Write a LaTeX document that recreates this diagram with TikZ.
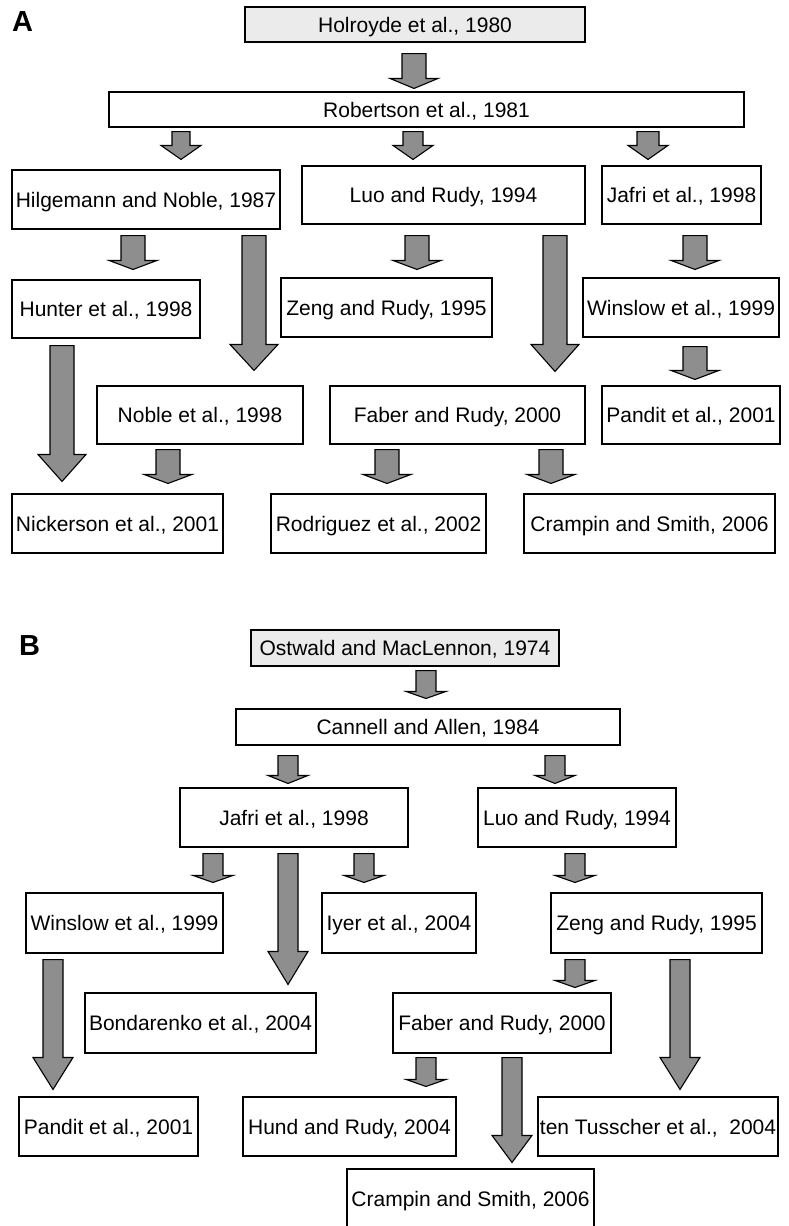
\documentclass[tikz,border=0pt]{standalone}
\usepackage{fontspec}
\setmainfont{Liberation Sans}
\usetikzlibrary{calc}
\definecolor{boxgray}{HTML}{EBEBEB}
\definecolor{arrowgray}{HTML}{8E8E8E}
\tikzset{
	study/.style={draw=black, line width=1.1pt, inner sep=0pt, text height=15, text depth=0, font=\fontsize{21}{25}\selectfont},
	root/.style={study, fill=boxgray},
	panel/.style={inner sep=0pt, text height=21, text depth=0, font=\fontsize{29}{32}\selectfont\bfseries},
	fa shaft/.store in=\faShaft, fa head/.store in=\faHead, fa len/.store in=\faLen,
	fa top/.store in=\faTop, fa gap/.store in=\faGap,
	fa shaft=24, fa head=48, fa len=9, fa top=6, fa gap=8,
	fa robt/.style={fa shaft=20, fa head=40, fa len=14, fa top=4},
	panelB/.style={fa shaft=20, fa head=40, fa len=7},
}
\newcommand{\fatarrow}[4][]{%
	\path[draw=black, line width=1.1pt, fill=arrowgray, #1]
		let \p1=(#3.south), \p2=(#4.north), \n1={#2*1pt}, \n2={\faShaft*0.5pt}, \n3={\faHead*0.5pt},
			\n4={\y1-\faTop*1pt}, \n5={\y2+\faGap*1pt}, \n6={\n5+\faLen*1pt} in
		(\n1-\n2,\n4) -- (\n1+\n2,\n4) -- (\n1+\n2,\n6) -- (\n1+\n3,\n6) -- (\n1,\n5) -- (\n1-\n3,\n6) -- (\n1-\n2,\n6) -- cycle;}

\begin{document}
\begin{tikzpicture}[x=1pt, y=-1pt]
	\useasboundingbox (0,0) rectangle (789,1226);
	\node[panel] (labA) at (22.5,21) {A};
	\node[root, minimum width=340, minimum height=35] (holr) at (415,24.5) {Holroyde et al., 1980};
	\node[study, minimum width=635, minimum height=35] (robt) at (426.5,109.5) {Robertson et al., 1981};
	\node[study, minimum width=268, minimum height=59] (hilg) at (146,199.5) {Hilgemann and Noble, 1987};
	\node[study, minimum width=283, minimum height=58] (luoA) at (443.5,195) {Luo and Rudy, 1994};
	\node[study, minimum width=159, minimum height=58] (jafA) at (681.5,195) {Jafri et al., 1998};
	\node[study, minimum width=188, minimum height=58] (hunt) at (106,309) {Hunter et al., 1998};
	\node[study, minimum width=211, minimum height=59] (zengA) at (386.5,307.5) {Zeng and Rudy, 1995};
	\node[study, minimum width=196, minimum height=59] (winA) at (681,307.5) {Winslow et al., 1999};
	\node[study, minimum width=206, minimum height=58] (nobl) at (200,415) {Noble et al., 1998};
	\node[study, minimum width=255, minimum height=58] (fabA) at (457.5,415) {Faber and Rudy, 2000};
	\node[study, minimum width=178, minimum height=58] (panA) at (691,415) {Pandit et al., 2001};
	\node[study, minimum width=211, minimum height=59] (nick) at (117.5,523.5) {Nickerson et al., 2001};
	\node[study, minimum width=215, minimum height=59] (rodr) at (378.5,523.5) {Rodriguez et al., 2002};
	\node[study, minimum width=251, minimum height=59] (cramA) at (649.5,523.5) {Crampin and Smith, 2006};
	\fatarrow[fa top=11, fa gap=3, fa len=10]{414}{holr}{robt}
	\fatarrow[fa robt, fa shaft=18, fa gap=10]{181}{robt}{hilg}
	\fatarrow[fa robt, fa gap=6]{413}{robt}{luoA}
	\fatarrow[fa robt, fa shaft=22, fa gap=6]{648}{robt}{jafA}
	\fatarrow[fa gap=10]{133}{hilg}{hunt}
	\fatarrow[fa len=26, fa gap=15]{254}{hilg}{nobl}
	\fatarrow[fa top=11]{417}{luoA}{zengA}
	\fatarrow[fa top=11, fa len=27, fa gap=14]{555}{luoA}{fabA}
	\fatarrow[fa top=11]{695}{jafA}{winA}
	\fatarrow[fa top=7, fa len=27, fa gap=12]{62}{hunt}{nick}
	\fatarrow[fa top=9, fa gap=6]{695}{winA}{panA}
	\fatarrow[fa top=5, fa gap=10]{168}{nobl}{nick}
	\fatarrow[fa top=5, fa gap=10]{387}{fabA}{rodr}
	\fatarrow[fa top=5, fa gap=10]{551}{fabA}{cramA}

	\node[panel] (labB) at (29.5,644.5) {B};
	\node[root, minimum width=308, minimum height=36] (ostw) at (405,648) {Ostwald and MacLennon, 1974};
	\node[study, minimum width=384, minimum height=36] (cann) at (428,727) {Cannell and Allen, 1984};
	\node[study, minimum width=228, minimum height=59] (jafB) at (294,817.5) {Jafri et al., 1998};
	\node[study, minimum width=198, minimum height=59] (luoB) at (577,817.5) {Luo and Rudy, 1994};
	\node[study, minimum width=197, minimum height=60] (winB) at (124.5,923) {Winslow et al., 1999};
	\node[study, minimum width=154, minimum height=60] (iyer) at (399,923) {Iyer et al., 2004};
	\node[study, minimum width=211, minimum height=60] (zengB) at (656.5,923) {Zeng and Rudy, 1995};
	\node[study, minimum width=231, minimum height=60] (bond) at (200.5,1023) {Bondarenko et al., 2004};
	\node[study, minimum width=218, minimum height=60] (fabB) at (502,1023) {Faber and Rudy, 2000};
	\node[study, minimum width=179, minimum height=59] (panB) at (108.5,1126.5) {Pandit et al., 2001};
	\node[study, minimum width=213, minimum height=59] (hund) at (349.5,1126.5) {Hund and Rudy, 2004};
	\node[study, minimum width=240, minimum height=59] (tuss) at (658,1126.5) {ten Tusscher et al.,\ \ 2004};
	\node[study, minimum width=247, minimum height=59] (cramB) at (470.5,1198.5) {Crampin and Smith, 2006};
	\fatarrow[panelB, fa top=4, fa gap=10]{426}{ostw}{cann}
	\fatarrow[panelB, fa top=10, fa gap=4, fa len=8]{288}{cann}{jafB}
	\fatarrow[panelB, fa top=10, fa gap=4, fa len=8]{555}{cann}{luoB}
	\fatarrow[panelB, fa gap=10]{213}{jafB}{winB}
	\fatarrow[panelB, fa len=33]{288}{jafB}{bond}
	\fatarrow[panelB, fa gap=10]{364}{jafB}{iyer}
	\fatarrow[panelB, fa gap=10]{575}{luoB}{zengB}
	\fatarrow[panelB, fa len=32, fa gap=7]{53}{winB}{panB}
	\fatarrow[panelB, fa gap=5]{575}{zengB}{fabB}
	\fatarrow[panelB, fa len=32, fa gap=7]{680}{zengB}{tuss}
	\fatarrow[panelB, fa top=4, fa gap=10]{426}{fabB}{hund}
	\fatarrow[panelB, fa top=4, fa len=27, fa gap=6]{512}{fabB}{cramB}
\end{tikzpicture}
\end{document}
